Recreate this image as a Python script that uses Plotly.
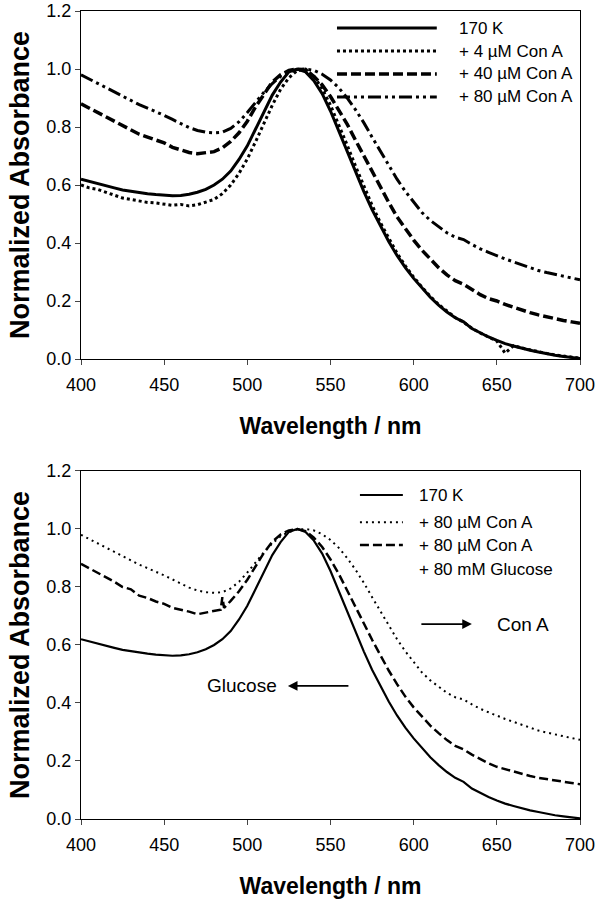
import plotly.graph_objects as go
from plotly.subplots import make_subplots

# ---------------- data ----------------
wavelength = list(range(400, 701, 5))

k170 = [0.620, 0.612, 0.605, 0.597, 0.590, 0.583, 0.578, 0.574, 0.570, 0.567,
        0.565, 0.563, 0.564, 0.568, 0.575, 0.585, 0.600, 0.620, 0.648, 0.688,
        0.735, 0.795, 0.855, 0.910, 0.955, 0.990, 1.000, 0.990, 0.960, 0.915,
        0.855, 0.785, 0.715, 0.645, 0.578, 0.515, 0.458, 0.405, 0.357, 0.315,
        0.278, 0.245, 0.213, 0.186, 0.162, 0.142, 0.128, 0.105, 0.090, 0.076,
        0.064, 0.053, 0.045, 0.037, 0.030, 0.024, 0.018, 0.013, 0.009, 0.005,
        0.002]

conA_4 = [0.600, 0.590, 0.585, 0.575, 0.565, 0.555, 0.550, 0.545, 0.540, 0.538,
          0.535, 0.530, 0.533, 0.528, 0.532, 0.540, 0.550, 0.570, 0.600, 0.640,
          0.690, 0.750, 0.815, 0.875, 0.930, 0.970, 0.995, 1.000, 0.975, 0.932,
          0.875, 0.808, 0.738, 0.666, 0.596, 0.530, 0.470, 0.415, 0.365, 0.321,
          0.282, 0.248, 0.216, 0.188, 0.164, 0.143, 0.127, 0.106, 0.090, 0.077,
          0.062, 0.020, 0.046, 0.038, 0.031, 0.025, 0.019, 0.014, 0.010, 0.006,
          0.003]

conA_40 = [0.880, 0.865, 0.850, 0.835, 0.820, 0.805, 0.790, 0.775, 0.765, 0.755,
           0.745, 0.730, 0.720, 0.712, 0.708, 0.710, 0.715, 0.728, 0.750, 0.780,
           0.820, 0.870, 0.915, 0.955, 0.980, 0.995, 1.000, 0.995, 0.975, 0.945,
           0.905, 0.860, 0.810, 0.755, 0.700, 0.645, 0.590, 0.540, 0.490, 0.448,
           0.410, 0.375, 0.343, 0.315, 0.290, 0.270, 0.258, 0.240, 0.222, 0.208,
           0.200, 0.188, 0.178, 0.168, 0.160, 0.152, 0.145, 0.139, 0.133, 0.128,
           0.123]

conA_80 = [0.980, 0.965, 0.950, 0.935, 0.920, 0.905, 0.890, 0.877, 0.865, 0.853,
           0.840, 0.826, 0.812, 0.798, 0.788, 0.782, 0.780, 0.782, 0.795, 0.818,
           0.850, 0.885, 0.920, 0.950, 0.975, 0.990, 0.998, 1.000, 0.995, 0.982,
           0.962, 0.935, 0.900, 0.860, 0.815, 0.765, 0.715, 0.665, 0.620, 0.578,
           0.540, 0.505, 0.478, 0.455, 0.435, 0.420, 0.412, 0.395, 0.380, 0.368,
           0.356, 0.345, 0.335, 0.325, 0.315, 0.305, 0.298, 0.292, 0.285, 0.279,
           0.273]

wavelength_glc = [400, 405, 410, 415, 420, 425, 430, 435, 440, 445, 450, 455, 460,
                  465, 470, 475, 480, 484, 485, 486, 490, 495, 500, 505, 510, 515,
                  520, 525, 530, 535, 540, 545, 550, 555, 560, 565, 570, 575, 580,
                  585, 590, 595, 600, 605, 610, 615, 620, 625, 630, 635, 640, 645,
                  650, 655, 660, 665, 670, 675, 680, 685, 690, 695, 700]
conA_80_glc = [0.880, 0.865, 0.850, 0.835, 0.818, 0.800, 0.792, 0.770, 0.762, 0.750,
               0.742, 0.728, 0.722, 0.715, 0.706, 0.712, 0.716, 0.722, 0.765, 0.728,
               0.752, 0.785, 0.825, 0.872, 0.918, 0.956, 0.981, 0.995, 1.000, 0.993,
               0.970, 0.938, 0.895, 0.845, 0.790, 0.732, 0.675, 0.618, 0.563, 0.512,
               0.465, 0.422, 0.385, 0.352, 0.322, 0.296, 0.272, 0.252, 0.240, 0.222,
               0.206, 0.192, 0.180, 0.172, 0.163, 0.155, 0.148, 0.142, 0.137, 0.132,
               0.128, 0.124, 0.120]

x_ticks = [400, 450, 500, 550, 600, 650, 700]
y_ticks = [0.0, 0.2, 0.4, 0.6, 0.8, 1.0, 1.2]
y_ticktext = ["0.0", "0.2", "0.4", "0.6", "0.8", "1.0", "1.2"]

top_names = ["170 K", "+ 4 \u00b5M Con A", "+ 40 \u00b5M Con A", "+ 80 \u00b5M Con A"]
bottom_names = ["170 K", "+ 80 \u00b5M Con A", "+ 80 \u00b5M Con A", "+ 80 mM Glucose"]

# ---------------- figure ----------------
FONT = "Liberation Sans, Arial, sans-serif"
fig = make_subplots(rows=2, cols=1, vertical_spacing=0.0)

top_styles = [
    dict(width=3, dash="solid"),
    dict(width=3, dash="3px,3px"),
    dict(width=3.5, dash="10px,4px"),
    dict(width=3, dash="13px,4px,3px,4px,3px,4px"),
]
top_data = [k170, conA_4, conA_40, conA_80]
for name, ys, st in zip(top_names, top_data, top_styles):
    fig.add_trace(go.Scatter(x=wavelength, y=ys, mode="lines", name=name,
                             line=dict(color="black", **st), showlegend=False),
                  row=1, col=1)

bottom_series = [(wavelength, k170, dict(width=2.2, dash="solid")),
                 (wavelength, conA_80, dict(width=2, dash="2px,4px")),
                 (wavelength_glc, conA_80_glc, dict(width=2.5, dash="9px,4px"))]
for name, (xs, ys, st) in zip(bottom_names[:3], bottom_series):
    fig.add_trace(go.Scatter(x=xs, y=ys, mode="lines", name=name,
                             line=dict(color="black", **st), showlegend=False),
                  row=2, col=1)

axis_common = dict(range=[400, 700], tickvals=x_ticks, ticks="outside", ticklen=5,
                   tickwidth=1.3, showline=True, linewidth=1.3, linecolor="black",
                   mirror=True, showgrid=False, zeroline=False, automargin=False,
                   ticklabelstandoff=4,
                   tickfont=dict(family=FONT, size=18, color="black"))
yaxis_common = dict(range=[0, 1.2], tickvals=y_ticks, ticktext=y_ticktext,
                    ticks="outside", ticklen=5, tickwidth=1.3, showline=True,
                    linewidth=1.3, linecolor="black", mirror=True, showgrid=False,
                    zeroline=False, automargin=False, ticklabeloverflow="allow",
                    tickfont=dict(family=FONT, size=18, color="black"))

title_font_x = dict(family=FONT, size=23, color="black")
title_font_y = dict(family=FONT, size=27, color="black")

fig.update_xaxes(**axis_common)
fig.update_yaxes(**yaxis_common)
fig.update_xaxes(title=dict(text="<b>Wavelength / nm</b>", font=title_font_x, standoff=24),
                 row=1, col=1)
fig.update_xaxes(title=dict(text="<b>Wavelength / nm</b>", font=title_font_x, standoff=24),
                 row=2, col=1)
fig.update_yaxes(title=dict(text="<b>Normalized Absorbance</b>", font=title_font_y, standoff=8),
                 row=1, col=1)
fig.update_yaxes(title=dict(text="<b>Normalized Absorbance</b>", font=title_font_y, standoff=8),
                 row=2, col=1)

fig.update_layout(
    width=600, height=900,
    margin=dict(l=81, r=20, t=11, b=81, autoexpand=False),
    plot_bgcolor="white", paper_bgcolor="white",
    font=dict(family=FONT, color="black"),
    xaxis=dict(domain=[0, 1]), xaxis2=dict(domain=[0, 1]),
    yaxis=dict(domain=[0.5693, 1.0]), yaxis2=dict(domain=[0.0, 0.4307]),
)

# ---------------- custom legends ----------------
shapes = []
annotations = []
# top legend
top_rows = [0.951, 0.885, 0.819, 0.753]
for name, st, yy in zip(top_names, top_styles, top_rows):
    shapes.append(dict(type="line", xref="x domain", yref="y domain",
                       x0=0.513, x1=0.713, y0=yy, y1=yy,
                       line=dict(color="black", width=st["width"], dash=st["dash"])))
    annotations.append(dict(text=name, xref="x domain", yref="y domain", x=0.754, y=yy,
                            xanchor="left", yanchor="middle", showarrow=False,
                            font=dict(family=FONT, size=17, color="black")))
# bottom legend
bot_rows = [0.931, 0.853, 0.787, 0.716]
for i, (name, yy) in enumerate(zip(bottom_names, bot_rows)):
    if i < 3:
        st = bottom_series[i][2]
        shapes.append(dict(type="line", xref="x2 domain", yref="y2 domain",
                           x0=0.559, x1=0.645, y0=yy, y1=yy,
                           line=dict(color="black", width=st["width"], dash=st["dash"])))
    annotations.append(dict(text=name, xref="x2 domain", yref="y2 domain", x=0.673, y=yy,
                            xanchor="left", yanchor="middle", showarrow=False,
                            font=dict(family=FONT, size=17, color="black")))

# arrows and labels in bottom panel
annotations.append(dict(x=635, y=0.672, xref="x2", yref="y2", ax=-52, ay=0,
                        text="", showarrow=True, arrowhead=2, arrowsize=1.2,
                        arrowwidth=1.6, arrowcolor="black"))
annotations.append(dict(x=666, y=0.672, xref="x2", yref="y2", text="Con A",
                        showarrow=False, font=dict(family=FONT, size=19, color="black")))
annotations.append(dict(x=524.4, y=0.459, xref="x2", yref="y2", ax=62, ay=0,
                        text="", showarrow=True, arrowhead=2, arrowsize=1.2,
                        arrowwidth=1.6, arrowcolor="black"))
annotations.append(dict(x=496.8, y=0.459, xref="x2", yref="y2", text="Glucose",
                        showarrow=False, font=dict(family=FONT, size=19, color="black")))

fig.update_layout(shapes=shapes, annotations=annotations)

# remove the browser's default 8px body margin so the figure sits at the page origin
fig.write_html("out.html", config={"displayModeBar": False},
               post_script="document.body.style.margin='0';")
